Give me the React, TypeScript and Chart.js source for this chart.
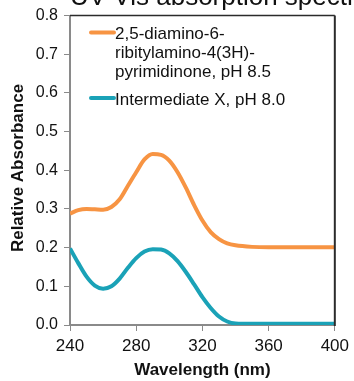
import React, { useEffect, useRef } from "react";
import { Chart, registerables } from "chart.js";

Chart.register(...registerables);

const wavelengths = [240, 245, 250, 255, 260, 265, 270, 275, 280, 285, 290, 295, 300, 305, 310, 315, 320, 325, 330, 335, 340, 350, 360, 380, 400];
const pyrimidinone = [0.288, 0.297, 0.300, 0.299, 0.298, 0.305, 0.325, 0.360, 0.395, 0.428, 0.442, 0.440, 0.425, 0.395, 0.355, 0.310, 0.270, 0.240, 0.222, 0.211, 0.206, 0.202, 0.201, 0.201, 0.201];
const intermediateX = [0.198, 0.160, 0.125, 0.102, 0.094, 0.100, 0.120, 0.148, 0.173, 0.190, 0.196, 0.195, 0.185, 0.165, 0.137, 0.105, 0.072, 0.044, 0.022, 0.009, 0.004, 0.003, 0.003, 0.003, 0.003];
const seriesLabels = [
  ["2,5-diamino-6-", "ribitylamino-4(3H)-", "pyrimidinone, pH 8.5"],
  ["Intermediate X, pH 8.0"],
];
const seriesColors = ["#F79443", "#1AA2B7"];
const chartTitle = "UV-Vis absorption spectra";
const xTitle = "Wavelength (nm)";
const yTitle = "Relative Absorbance";

const FONT = "'Liberation Sans', Arial, Helvetica, sans-serif";

export default function App() {
  const ref = useRef<HTMLCanvasElement | null>(null);
  useEffect(() => {
    document.body.style.margin = "0";
    const canvas = ref.current!;
    const decor = {
      id: "decor",
      afterDraw(chart: any) {
        const ctx = chart.ctx as CanvasRenderingContext2D;
        const a = chart.chartArea;
        ctx.save();
        // top & right frame
        ctx.strokeStyle = "#2b2b2b";
        ctx.lineWidth = 1.5;
        ctx.beginPath();
        ctx.moveTo(a.left, a.top);
        ctx.lineTo(a.right, a.top);
        ctx.stroke();
        ctx.lineWidth = 2;
        ctx.beginPath();
        ctx.moveTo(a.right, a.top);
        ctx.lineTo(a.right, a.bottom + 1);
        ctx.stroke();
        // title (cut off at top)
        ctx.fillStyle = "#111";
        ctx.font = `26px ${FONT}`;
        ctx.textBaseline = "alphabetic";
        ctx.textAlign = "left";
        ctx.fillText(chartTitle, 70, 5);
        // y title
        ctx.font = `bold 17px ${FONT}`;
        ctx.translate(18, 168);
        ctx.rotate(-Math.PI / 2);
        ctx.textAlign = "center";
        ctx.textBaseline = "middle";
        ctx.fillText(yTitle, 0, 0);
        ctx.restore();
        // legend
        ctx.save();
        ctx.font = `17px ${FONT}`;
        ctx.textBaseline = "middle";
        ctx.textAlign = "left";
        ctx.fillStyle = "#111";
        const tops = [32.5, 98];
        seriesLabels.forEach((lines, i) => {
          const y0 = tops[i];
          ctx.strokeStyle = seriesColors[i];
          ctx.lineWidth = 4;
          ctx.lineCap = "round";
          ctx.beginPath();
          ctx.moveTo(a.left + 21, y0);
          ctx.lineTo(a.left + 44, y0);
          ctx.stroke();
          lines.forEach((t, j) => {
            ctx.fillText(t, a.left + 45, y0 + 2 + j * 18.8);
          });
        });
        ctx.restore();
      },
    };
    const chart = new Chart(canvas, {
      type: "line",
      data: {
        labels: wavelengths,
        datasets: [
          {
            label: seriesLabels[0].join(" "),
            data: wavelengths.map((x, i) => ({ x, y: pyrimidinone[i] })),
            borderColor: seriesColors[0],
            borderWidth: 4,
            pointRadius: 0,
            cubicInterpolationMode: "monotone",
          },
          {
            label: seriesLabels[1].join(" "),
            data: wavelengths.map((x, i) => ({ x, y: intermediateX[i] })),
            borderColor: seriesColors[1],
            borderWidth: 4,
            pointRadius: 0,
            cubicInterpolationMode: "monotone",
          },
        ],
      },
      options: {
        animation: false,
        responsive: false,
        devicePixelRatio: 1,
        layout: { padding: { top: 14, right: 16, left: 0, bottom: 0 } },
        plugins: { legend: { display: false }, tooltip: { enabled: false } },
        scales: {
          x: {
            type: "linear",
            min: 240,
            max: 400,
            ticks: { stepSize: 40, color: "#111", font: { family: FONT, size: 17 }, padding: 5, maxRotation: 0 },
            grid: { drawOnChartArea: false, tickLength: 6, color: "#8a8a8a", tickColor: "#8a8a8a" },
            border: { color: "#8a8a8a", width: 2 },
            title: { display: true, text: xTitle, color: "#111", font: { family: FONT, size: 17, weight: "bold" }, padding: { top: 3, bottom: 0 } },
            afterFit(s: any) { s.height = 56; },
          },
          y: {
            min: 0,
            max: 0.8,
            ticks: { stepSize: 0.1, color: "#111", font: { family: FONT, size: 16 }, padding: 6, callback: (v: any) => Number(v).toFixed(1) },
            grid: { drawOnChartArea: false, tickLength: 6, color: "#8a8a8a", tickColor: "#8a8a8a" },
            border: { color: "#8a8a8a", width: 2 },
            afterFit(s: any) { s.width = 70; },
          },
        },
      },
      plugins: [decor],
    } as any);
    return () => chart.destroy();
  }, []);
  return <canvas ref={ref} width={354} height={381} style={{ display: "block" }} />;
}
